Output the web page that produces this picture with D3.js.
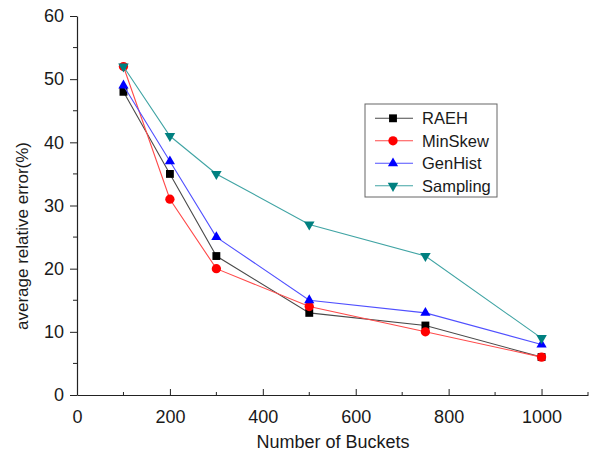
<!DOCTYPE html>
<html>
<head>
<meta charset="utf-8">
<script src="https://cdn.jsdelivr.net/npm/d3@7"></script>
<style>
  html, body { margin: 0; padding: 0; background: #fff; }
  svg { display: block; font-family: "Liberation Sans", Arial, sans-serif; }
</style>
</head>
<body>
<svg id="chart" width="590" height="456"></svg>
<script>
// Buckets on the x axis
const buckets = [100, 200, 300, 500, 750, 1000];

// Average relative error (%) per method
const raeh     = [48, 35, 22, 13, 11, 6];
const minSkew  = [52, 31, 20, 14, 10, 6];
const genHist  = [49, 37, 25, 15, 13, 8];
const sampling = [52, 41, 35, 27, 22, 9];

const seriesNames = ["RAEH", "MinSkew", "GenHist", "Sampling"];
const xTicks = [0, 200, 400, 600, 800, 1000];
const yTicks = [0, 10, 20, 30, 40, 50, 60];

const series = [
  { name: seriesNames[0], values: raeh,     line: "#4a4a4a", fill: "#000000", symbol: d3.symbolSquare,   size: 62, rot: 0 },
  { name: seriesNames[1], values: minSkew,  line: "#ff4a4a", fill: "#ff0000", symbol: d3.symbolCircle,   size: 68, rot: 0 },
  { name: seriesNames[2], values: genHist,  line: "#5050ff", fill: "#0000ff", symbol: d3.symbolTriangle, size: 45, rot: 0 },
  { name: seriesNames[3], values: sampling, line: "#40a4a4", fill: "#008080", symbol: d3.symbolTriangle, size: 48, rot: 180 }
];

const svg = d3.select("#chart");
const plot = { left: 77, right: 588, top: 16, bottom: 395 };

const x = d3.scaleLinear().domain([0, 1100]).range([plot.left, plot.right]);
const y = d3.scaleLinear().domain([0, 60]).range([plot.bottom, plot.top]);

const axisColor = "#222";
const textColor = "#1a1a1a";

// x axis: major ticks every 200 pointing up into the plot, minor every 100
const gx = svg.append("g").attr("transform", `translate(0,${plot.bottom})`);
gx.call(d3.axisBottom(x).tickValues(xTicks).tickFormat(d3.format("d")).tickSize(0).tickSizeOuter(0))
  .call(g => g.select(".domain").attr("stroke", axisColor).attr("stroke-width", 1.2))
  .call(g => g.selectAll(".tick line").attr("stroke", axisColor).attr("y2", -6))
  .call(g => g.selectAll(".tick text").attr("font-size", 18).attr("fill", textColor)
    .attr("y", 15).attr("dy", "0.71em"));
gx.selectAll(".minor").data(d3.range(100, 1101, 200)).enter().append("line")
  .attr("x1", d => x(d)).attr("x2", d => x(d)).attr("y1", 0).attr("y2", -3)
  .attr("stroke", axisColor);

// y axis: major ticks every 10, minor every 5
const gy = svg.append("g").attr("transform", `translate(${plot.left},0)`);
gy.call(d3.axisLeft(y).tickValues(yTicks).tickSize(7).tickSizeOuter(0).tickPadding(6))
  .call(g => g.select(".domain").attr("stroke", axisColor).attr("stroke-width", 1.2))
  .call(g => g.selectAll(".tick line").attr("stroke", axisColor))
  .call(g => g.selectAll(".tick text").attr("font-size", 18).attr("fill", textColor));
gy.selectAll(".minor").data(d3.range(5, 60, 10)).enter().append("line")
  .attr("x1", 0).attr("x2", -4).attr("y1", d => y(d)).attr("y2", d => y(d))
  .attr("stroke", axisColor);

// axis titles
svg.append("text")
  .attr("x", 333).attr("y", 448)
  .attr("text-anchor", "middle").attr("font-size", 18).attr("fill", textColor)
  .text("Number of Buckets");
svg.append("text")
  .attr("transform", "translate(28,236) rotate(-90)")
  .attr("text-anchor", "middle").attr("font-size", 17).attr("fill", textColor)
  .text("average relative error(%)");

// lines and markers
const line = d3.line().x(d => x(d[0])).y(d => y(d[1]));
series.forEach(s => {
  const pts = buckets.map((b, i) => [b, s.values[i]]);
  const g = svg.append("g");
  g.append("path").datum(pts).attr("d", line)
    .attr("fill", "none").attr("stroke", s.line).attr("stroke-width", 1.1);
  g.selectAll("path.m").data(pts).enter().append("path")
    .attr("class", "m")
    .attr("d", d3.symbol().type(s.symbol).size(s.size))
    .attr("transform", d => `translate(${x(d[0])},${y(d[1])}) rotate(${s.rot})`)
    .attr("fill", s.fill);
});

// legend
const lg = svg.append("g").attr("transform", "translate(365,104)");
lg.append("rect").attr("width", 132).attr("height", 93)
  .attr("fill", "#fff").attr("stroke", "#666").attr("stroke-width", 1);
series.forEach((s, i) => {
  const yy = 14.3 + i * 22.5;
  lg.append("line").attr("x1", 10).attr("x2", 48).attr("y1", yy).attr("y2", yy)
    .attr("stroke", s.line).attr("stroke-width", 1.1);
  lg.append("path").attr("d", d3.symbol().type(s.symbol).size(s.size)())
    .attr("transform", `translate(28,${yy}) rotate(${s.rot})`).attr("fill", s.fill);
  lg.append("text").attr("x", 57).attr("y", yy).attr("dy", "0.35em")
    .attr("font-size", 16.5).attr("fill", textColor).text(s.name);
});
</script>
</body>
</html>
